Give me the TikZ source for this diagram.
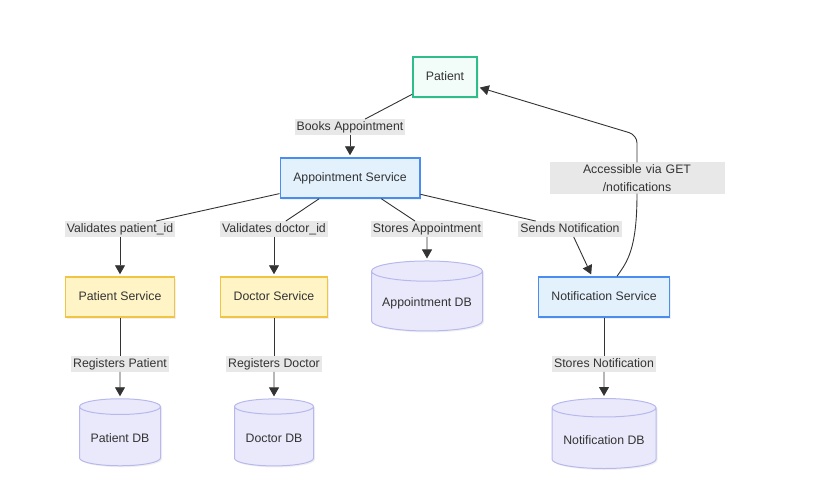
\documentclass[tikz,border=0pt]{standalone}
\usepackage{fontspec}
\setmainfont{Liberation Sans}
\usetikzlibrary{shapes.geometric,arrows.meta,shadows}
\definecolor{patfill}{HTML}{F2FCF8}
\definecolor{patline}{HTML}{2DBE8C}
\definecolor{svcfill}{HTML}{E3F1FD}
\definecolor{svcline}{HTML}{4A8CF0}
\definecolor{regfill}{HTML}{FFF4C6}
\definecolor{regline}{HTML}{F2C443}
\definecolor{dbfill}{HTML}{E9E9FB}
\definecolor{dbline}{HTML}{B8B8EE}
\definecolor{lblfill}{HTML}{E8E8E8}
\definecolor{ink}{HTML}{333333}

\begin{document}
\begin{tikzpicture}[x=1pt,y=-1pt,
    font=\fontsize{12.3}{18}\selectfont, text=ink,
    box/.style={rectangle, line width=1.5pt, minimum height=40pt, inner xsep=13pt,
        text height=9pt, text depth=2.5pt,
        drop shadow={shadow xshift=1.5pt, shadow yshift=-1.5pt, opacity=0.12}},
    user/.style={box, draw=patline, fill=patfill},
    svc/.style={box, draw=svcline, fill=svcfill},
    reg/.style={box, draw=regline, fill=regfill},
    db/.style={cylinder, shape border rotate=90, aspect=0.21, draw=dbline, fill=dbfill,
        line width=1pt, drop shadow={shadow xshift=1.5pt, shadow yshift=-1.5pt, opacity=0.12}},
    lbl/.style={fill=lblfill, inner xsep=2pt, inner ysep=2pt, text height=9pt, text depth=2.5pt},
    link/.style={draw=ink, line width=0.9pt},
    arr/.style={link, -{Triangle[width=10pt,length=9pt]}, shorten >=2pt}]
    \useasboundingbox (0,0) rectangle (829,490);

    \node at (445, 77) [user] (patient) {Patient};
    \node at (350,178) [svc] (appt) {Appointment Service};

    \node at (120,297) [reg] (patsvc) {Patient Service};
    \node at (274,297) [reg] (docsvc) {Doctor Service};
    \node at (604,297) [svc] (notif) {Notification Service};

    \node at (427,303) [db, minimum width=111pt, minimum height=70pt] (apptdb) {Appointment DB};
    \node at (120,438) [db, aspect=0.24, minimum width=81pt, minimum height=67pt] (patdb) {Patient DB};
    \node at (274,438) [db, aspect=0.24, minimum width=79pt, minimum height=67pt] (docdb) {Doctor DB};
    \node at (604,440) [db, minimum width=104pt, minimum height=70pt] (notifdb) {Notification DB};

    % edge labels
    \node at (350,127) [lbl] (books) {Books Appointment};
    \node at (120,229) [lbl] (vpat) {Validates patient\_id};
    \node at (274,229) [lbl] (vdoc) {Validates doctor\_id};
    \node at (427,229) [lbl] (store) {Stores Appointment};
    \node at (570,229) [lbl] (sendn) {Sends Notification};
    \node at (637,178) [lbl, text width=171pt, align=center, text height=, text depth=] (access) {Accessible via GET\\/notifications};
    \node at (120,364) [lbl] (regpat) {Registers Patient};
    \node at (274,364) [lbl] (regdoc) {Registers Doctor};
    \node at (604,364) [lbl] (storen) {Stores Notification};

    \coordinate (nbend) at (637,135);

    \draw[link] (patient) -- (books);
    \draw[arr] (books) -- (appt);
    \draw[link] (appt) -- (vpat);
    \draw[arr] (vpat) -- (patsvc);
    \draw[link] (appt) -- (vdoc);
    \draw[arr] (vdoc) -- (docsvc);
    \draw[link] (appt) -- (store);
    \draw[arr] (store) -- (apptdb);
    \draw[link] (appt) -- (sendn);
    \draw[arr] (sendn) -- ([xshift=-12pt]notif.north);
    \draw[link] (patsvc) -- (regpat);
    \draw[arr] (regpat) -- (patdb);
    \draw[link] (docsvc) -- (regdoc);
    \draw[arr] (regdoc) -- (docdb);
    \draw[link] (notif) -- (storen);
    \draw[arr] (storen) -- (notifdb);
    \draw[link] ([xshift=13pt]notif.north) .. controls (627,262) and (637,250) .. (access);
    \draw[arr, rounded corners=8pt] (access) -- (nbend) -- ([yshift=-10pt]patient.east);
\end{tikzpicture}
\end{document}
